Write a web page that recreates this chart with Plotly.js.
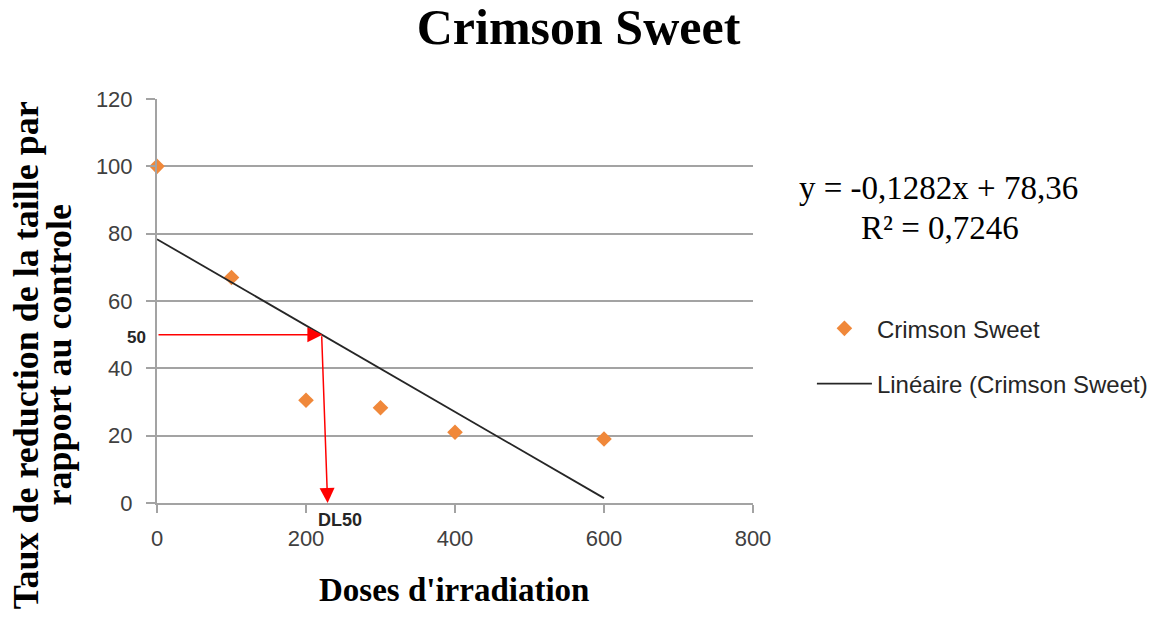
<!DOCTYPE html>
<html>
<head>
<meta charset="utf-8">
<script src="https://cdn.plot.ly/plotly-3.0.1.min.js"></script>
<style>html,body{margin:0;padding:0;background:#fff;}#chart{width:1164px;height:626px;}</style>
</head>
<body>
<div id="chart"></div>
<script>
const doses = [0, 100, 200, 300, 400, 600];
const taux = [100, 67, 30.5, 28.3, 21, 19];
const trendX = [0, 600];
const trendY = [78.36, 1.44];
const seriesName = "Crimson Sweet";
const trendName = "Linéaire (Crimson Sweet)";
const xTicks = [0, 200, 400, 600, 800];
const yTicks = [0, 20, 40, 60, 80, 100, 120];
const dl50X = [0, 222, 221, 229];
const dl50Y = [50, 50, 50, 0];
const yTitleLines = ["Taux de reduction de la taille par", "rapport au controle"];
const eqLines = ["y = -0,1282x + 78,36", "R² = 0,7246"];

const traces = [
  {x: doses, y: taux, mode: 'markers', type: 'scatter', name: seriesName, legendgroup: 'a',
   marker: {symbol: 'diamond', size: 12, color: '#F0883A'}, cliponaxis: false},
  {x: trendX, y: trendY, mode: 'lines', type: 'scatter', name: trendName, legendgroup: 'b',
   line: {color: '#262626', width: 1.8}}
];

const gridC = '#a3a3a3';
const tickFont = {family: 'Liberation Sans', size: 22, color: '#404040'};
const layout = {
  width: 1164, height: 626,
  margin: {l: 157, r: 410, t: 99, b: 123},
  paper_bgcolor: '#fff', plot_bgcolor: '#fff',
  title: {text: '<b>Crimson Sweet</b>', font: {family: 'Liberation Serif', size: 50, color: '#000'},
          x: 0.497, xanchor: 'center', y: 0.958, yanchor: 'middle'},
  xaxis: {range: [0, 800], tickvals: xTicks, showgrid: false, zeroline: false,
          showline: true, linecolor: gridC, linewidth: 2,
          ticks: 'outside', ticklen: 8, tickcolor: gridC, tickwidth: 2, ticklabelstandoff: 7,
          tickfont: tickFont},
  yaxis: {range: [0, 120], tickvals: yTicks, showgrid: true, gridcolor: gridC, gridwidth: 2,
          zeroline: false, showline: true, linecolor: gridC, linewidth: 2,
          ticks: 'outside', ticklen: 9, tickcolor: gridC, tickwidth: 2, ticklabelstandoff: 9,
          tickfont: tickFont},
  showlegend: true,
  legend: {x: 1.097, y: 0.487, xanchor: 'left', yanchor: 'top', traceorder: 'grouped', tracegroupgap: 21,
           itemwidth: 55,
           font: {family: 'Liberation Sans', size: 24, color: '#262626'}, bgcolor: 'rgba(0,0,0,0)'},
  annotations: [
    {xref: 'paper', yref: 'paper', x: -0.2195, y: 0.366, xanchor: 'center', yanchor: 'middle',
     textangle: -90, showarrow: false,
     text: '<b>' + yTitleLines[0] + '</b>', font: {family: 'Liberation Serif', size: 36, color: '#000'}},
    {xref: 'paper', yref: 'paper', x: -0.164, y: 0.366, xanchor: 'center', yanchor: 'middle',
     textangle: -90, showarrow: false,
     text: '<b>' + yTitleLines[1] + '</b>', font: {family: 'Liberation Serif', size: 36, color: '#000'}},
    {xref: 'paper', yref: 'paper', x: 0.499, y: -0.215, xanchor: 'center', yanchor: 'middle', showarrow: false,
     text: "<b>Doses d'irradiation</b>", font: {family: 'Liberation Serif', size: 33, color: '#000'}},
    {xref: 'paper', yref: 'paper', x: 1.3116, y: 0.78, xanchor: 'center', yanchor: 'middle', showarrow: false,
     text: eqLines[0], font: {family: 'Liberation Serif', size: 33, color: '#000'}},
    {xref: 'paper', yref: 'paper', x: 1.313, y: 0.681, xanchor: 'center', yanchor: 'middle', showarrow: false,
     text: eqLines[1], font: {family: 'Liberation Serif', size: 33, color: '#000'}},
    {xref: 'x', yref: 'y', x: dl50X[1], y: dl50Y[1], ax: dl50X[0], ay: dl50Y[0], axref: 'x', ayref: 'y',
     text: '', showarrow: true, arrowhead: 2, arrowsize: 2, arrowwidth: 1.5, arrowcolor: '#ff0000'},
    {xref: 'x', yref: 'y', x: dl50X[3], y: dl50Y[3], ax: dl50X[2], ay: dl50Y[2], axref: 'x', ayref: 'y',
     text: '', showarrow: true, arrowhead: 2, arrowsize: 2, arrowwidth: 1.5, arrowcolor: '#ff0000'},
    {xref: 'paper', yref: 'y', x: -0.034, y: 49.3, xanchor: 'center', yanchor: 'middle', showarrow: false,
     text: '<b>50</b>', font: {family: 'Liberation Sans', size: 17, color: '#262626'}},
    {xref: 'x', yref: 'paper', x: 245, y: -0.042, xanchor: 'center', yanchor: 'middle', showarrow: false,
     text: '<b>DL50</b>', font: {family: 'Liberation Sans', size: 18, color: '#262626'}}
  ]
};
Plotly.newPlot('chart', traces, layout, {displayModeBar: false, staticPlot: true});
</script>
</body>
</html>
